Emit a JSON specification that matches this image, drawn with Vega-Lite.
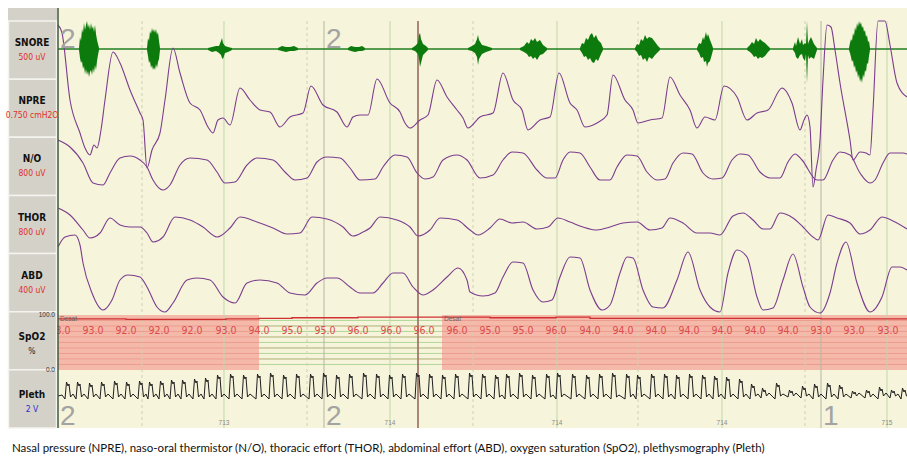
{
"$schema":"https://vega.github.io/schema/vega-lite/v6.json",
"width":899,"height":420,
"autosize":{"type":"none"},
"padding":{"left":8,"top":8,"right":0,"bottom":30},
"background":"#ffffff",
"config":{"view":{"fill":"#f6f4da","stroke":null},"text":{"font":"Liberation Sans"}},
"title":{"text":"Nasal pressure (NPRE), naso-oral thermistor (N/O), thoracic effort (THOR), abdominal effort (ABD), oxygen saturation (SpO2), plethysmography (Pleth)","orient":"bottom","anchor":"start","frame":"group","offset":12,"dx":4,"font":"Lato","fontSize":11.5,"fontWeight":"normal","color":"#111111"},
"resolve":{"scale":{"y":"independent"}},
"datasets":{
"grid":[{"t":84,"k":"minor"},{"t":249,"k":"minor"},{"t":415,"k":"minor"},{"t":580,"k":"minor"},{"t":747,"k":"minor"},{"t":166,"k":"major"},{"t":332,"k":"major"},{"t":499,"k":"major"},{"t":664,"k":"major"},{"t":829,"k":"major"},{"t":266,"k":"stage"},{"t":763,"k":"stage"},{"t":360,"k":"cursor"}],
"stages":[{"t":0,"stage":"2"},{"t":266,"stage":"2"},{"t":763,"stage":"1"}],
"epochs":[{"t":166,"ep":"713"},{"t":332,"ep":"714"},{"t":499,"ep":"714"},{"t":664,"ep":"714"},{"t":829,"ep":"715"}],
"channels":[{"name":"SNORE","unit":"500 uV"},{"name":"NPRE","unit":"0.750 cmH2O"},{"name":"N/O","unit":"800 uV"},{"name":"THOR","unit":"800 uV"},{"name":"ABD","unit":"400 uV"},{"name":"SpO2","unit":"%"},{"name":"Pleth","unit":"2 V"}],
"desat":[{"t":0,"t2":201},{"t":384,"t2":849}],
"spo2grid":[{"lvl":10},{"lvl":20},{"lvl":30},{"lvl":40},{"lvl":50},{"lvl":60},{"lvl":70},{"lvl":80},{"lvl":90}],
"spo2ax":[{"lvl":100,"lab":"100.0"},{"lvl":0,"lab":"0.0"}],
"spo2":[{"t":2,"val":93},{"t":35,"val":93},{"t":68,"val":92},{"t":101,"val":92},{"t":134,"val":92},{"t":168,"val":93},{"t":201,"val":94},{"t":234,"val":95},{"t":267,"val":95},{"t":300,"val":96},{"t":333,"val":96},{"t":366,"val":96},{"t":399,"val":96},{"t":432,"val":95},{"t":465,"val":95},{"t":498,"val":96},{"t":532,"val":94},{"t":565,"val":94},{"t":598,"val":94},{"t":631,"val":94},{"t":664,"val":94},{"t":697,"val":94},{"t":730,"val":94},{"t":763,"val":93},{"t":796,"val":93},{"t":830,"val":93}],
"spo2trace":[{"t":0,"val":93},{"t":35,"val":93},{"t":68,"val":92},{"t":101,"val":92},{"t":134,"val":92},{"t":168,"val":93},{"t":201,"val":94},{"t":234,"val":95},{"t":267,"val":95},{"t":300,"val":96},{"t":333,"val":96},{"t":366,"val":96},{"t":399,"val":96},{"t":432,"val":95},{"t":465,"val":95},{"t":498,"val":96},{"t":532,"val":94},{"t":565,"val":94},{"t":598,"val":94},{"t":631,"val":94},{"t":664,"val":94},{"t":697,"val":94},{"t":730,"val":94},{"t":763,"val":93},{"t":796,"val":93},{"t":830,"val":93},{"t":849,"val":93}],
"snorebase":[{"t":0,"v":0},{"t":849,"v":0}],
"snore":[
{"b":1,"t":21,"hi":1,"lo":-1},{"b":1,"t":22,"hi":12,"lo":-9},{"b":1,"t":23,"hi":8,"lo":-14},{"b":1,"t":24,"hi":20,"lo":-12},{"b":1,"t":25,"hi":16,"lo":-20},{"b":1,"t":26,"hi":26,"lo":-17},{"b":1,"t":27,"hi":19,"lo":-25},{"b":1,"t":28,"hi":24,"lo":-20},{"b":1,"t":29,"hi":28,"lo":-26},{"b":1,"t":30,"hi":21,"lo":-22},{"b":1,"t":31,"hi":25,"lo":-28},{"b":1,"t":32,"hi":19,"lo":-23},{"b":1,"t":33,"hi":26,"lo":-21},{"b":1,"t":34,"hi":20,"lo":-26},{"b":1,"t":35,"hi":23,"lo":-19},{"b":1,"t":36,"hi":17,"lo":-24},{"b":1,"t":37,"hi":24,"lo":-16},{"b":1,"t":38,"hi":15,"lo":-21},{"b":1,"t":39,"hi":9,"lo":-12},{"b":1,"t":40,"hi":5,"lo":-6},{"b":1,"t":41,"hi":1,"lo":-1},
{"b":2,"t":89,"hi":1,"lo":-1},{"b":2,"t":90,"hi":11,"lo":-7},{"b":2,"t":91,"hi":8,"lo":-14},{"b":2,"t":92,"hi":18,"lo":-12},{"b":2,"t":93,"hi":15,"lo":-19},{"b":2,"t":94,"hi":21,"lo":-16},{"b":2,"t":95,"hi":17,"lo":-21},{"b":2,"t":96,"hi":20,"lo":-18},{"b":2,"t":97,"hi":16,"lo":-21},{"b":2,"t":98,"hi":20,"lo":-15},{"b":2,"t":99,"hi":14,"lo":-19},{"b":2,"t":100,"hi":17,"lo":-13},{"b":2,"t":101,"hi":8,"lo":-10},{"b":2,"t":102,"hi":1,"lo":-1},
{"b":3,"t":150,"hi":1,"lo":-1},{"b":3,"t":154,"hi":2,"lo":-3},{"b":3,"t":158,"hi":3,"lo":-2},{"b":3,"t":161,"hi":3,"lo":-4},{"b":3,"t":163,"hi":8,"lo":-6},{"b":3,"t":164,"hi":11,"lo":-9},{"b":3,"t":165,"hi":6,"lo":-10},{"b":3,"t":167,"hi":3,"lo":-4},{"b":3,"t":170,"hi":2,"lo":-3},{"b":3,"t":174,"hi":1,"lo":-1},
{"b":4,"t":220,"hi":1,"lo":-1},{"b":4,"t":224,"hi":3,"lo":-2},{"b":4,"t":228,"hi":2,"lo":-3},{"b":4,"t":232,"hi":2,"lo":-2},{"b":4,"t":236,"hi":3,"lo":-2},{"b":4,"t":240,"hi":1,"lo":-1},
{"b":5,"t":290,"hi":1,"lo":-1},{"b":5,"t":293,"hi":3,"lo":-2},{"b":5,"t":297,"hi":2,"lo":-3},{"b":5,"t":301,"hi":2,"lo":-2},{"b":5,"t":304,"hi":3,"lo":-2},{"b":5,"t":307,"hi":1,"lo":-1},
{"b":6,"t":354,"hi":1,"lo":-1},{"b":6,"t":357,"hi":3,"lo":-2},{"b":6,"t":360,"hi":6,"lo":-5},{"b":6,"t":361,"hi":14,"lo":-10},{"b":6,"t":362,"hi":16,"lo":-18},{"b":6,"t":363,"hi":10,"lo":-14},{"b":6,"t":365,"hi":5,"lo":-6},{"b":6,"t":368,"hi":3,"lo":-3},{"b":6,"t":370,"hi":1,"lo":-1},
{"b":7,"t":410,"hi":1,"lo":-1},{"b":7,"t":414,"hi":3,"lo":-2},{"b":7,"t":417,"hi":5,"lo":-4},{"b":7,"t":419,"hi":10,"lo":-8},{"b":7,"t":420,"hi":14,"lo":-16},{"b":7,"t":421,"hi":9,"lo":-10},{"b":7,"t":424,"hi":4,"lo":-5},{"b":7,"t":428,"hi":3,"lo":-3},{"b":7,"t":431,"hi":2,"lo":-2},{"b":7,"t":434,"hi":1,"lo":-1},
{"b":8,"t":462,"hi":1,"lo":-1},{"b":8,"t":466,"hi":3,"lo":-3},{"b":8,"t":469,"hi":7,"lo":-5},{"b":8,"t":471,"hi":5,"lo":-8},{"b":8,"t":473,"hi":10,"lo":-7},{"b":8,"t":475,"hi":8,"lo":-10},{"b":8,"t":477,"hi":11,"lo":-8},{"b":8,"t":479,"hi":7,"lo":-11},{"b":8,"t":482,"hi":9,"lo":-6},{"b":8,"t":485,"hi":4,"lo":-5},{"b":8,"t":489,"hi":1,"lo":-1},
{"b":9,"t":522,"hi":1,"lo":-1},{"b":9,"t":524,"hi":6,"lo":-4},{"b":9,"t":526,"hi":5,"lo":-8},{"b":9,"t":528,"hi":11,"lo":-7},{"b":9,"t":530,"hi":9,"lo":-11},{"b":9,"t":532,"hi":14,"lo":-9},{"b":9,"t":534,"hi":16,"lo":-13},{"b":9,"t":536,"hi":11,"lo":-14},{"b":9,"t":538,"hi":14,"lo":-10},{"b":9,"t":540,"hi":9,"lo":-12},{"b":9,"t":543,"hi":6,"lo":-5},{"b":9,"t":545,"hi":1,"lo":-1},
{"b":10,"t":577,"hi":1,"lo":-1},{"b":10,"t":579,"hi":5,"lo":-3},{"b":10,"t":581,"hi":4,"lo":-7},{"b":10,"t":583,"hi":10,"lo":-6},{"b":10,"t":585,"hi":8,"lo":-11},{"b":10,"t":587,"hi":14,"lo":-9},{"b":10,"t":589,"hi":10,"lo":-13},{"b":10,"t":591,"hi":12,"lo":-8},{"b":10,"t":594,"hi":11,"lo":-10},{"b":10,"t":597,"hi":7,"lo":-6},{"b":10,"t":600,"hi":3,"lo":-3},{"b":10,"t":602,"hi":1,"lo":-1},
{"b":11,"t":639,"hi":1,"lo":-1},{"b":11,"t":641,"hi":6,"lo":-4},{"b":11,"t":643,"hi":5,"lo":-9},{"b":11,"t":645,"hi":12,"lo":-8},{"b":11,"t":646,"hi":9,"lo":-13},{"b":11,"t":648,"hi":17,"lo":-12},{"b":11,"t":649,"hi":12,"lo":-18},{"b":11,"t":650,"hi":15,"lo":-14},{"b":11,"t":652,"hi":9,"lo":-12},{"b":11,"t":654,"hi":4,"lo":-5},{"b":11,"t":655,"hi":1,"lo":-1},
{"b":12,"t":689,"hi":1,"lo":-1},{"b":12,"t":692,"hi":4,"lo":-3},{"b":12,"t":694,"hi":7,"lo":-5},{"b":12,"t":696,"hi":5,"lo":-8},{"b":12,"t":698,"hi":11,"lo":-7},{"b":12,"t":700,"hi":7,"lo":-10},{"b":12,"t":702,"hi":10,"lo":-8},{"b":12,"t":704,"hi":8,"lo":-9},{"b":12,"t":707,"hi":6,"lo":-7},{"b":12,"t":710,"hi":3,"lo":-3},{"b":12,"t":712,"hi":1,"lo":-1},
{"b":13,"t":735,"hi":1,"lo":-1},{"b":13,"t":737,"hi":7,"lo":-4},{"b":13,"t":738,"hi":3,"lo":-8},{"b":13,"t":740,"hi":12,"lo":-10},{"b":13,"t":742,"hi":5,"lo":-6},{"b":13,"t":744,"hi":10,"lo":-5},{"b":13,"t":745,"hi":4,"lo":-9},{"b":13,"t":747,"hi":6,"lo":-12},{"b":13,"t":748,"hi":5,"lo":-5},{"b":13,"t":749,"hi":28,"lo":-34},{"b":13,"t":750,"hi":5,"lo":-6},{"b":13,"t":751,"hi":8,"lo":-10},{"b":13,"t":753,"hi":12,"lo":-8},{"b":13,"t":756,"hi":5,"lo":-10},{"b":13,"t":759,"hi":1,"lo":-1},
{"b":14,"t":791,"hi":1,"lo":-1},{"b":14,"t":792,"hi":6,"lo":-4},{"b":14,"t":793,"hi":10,"lo":-8},{"b":14,"t":794,"hi":8,"lo":-13},{"b":14,"t":795,"hi":16,"lo":-11},{"b":14,"t":796,"hi":13,"lo":-19},{"b":14,"t":797,"hi":22,"lo":-16},{"b":14,"t":798,"hi":18,"lo":-24},{"b":14,"t":799,"hi":26,"lo":-21},{"b":14,"t":800,"hi":22,"lo":-29},{"b":14,"t":801,"hi":28,"lo":-25},{"b":14,"t":802,"hi":24,"lo":-33},{"b":14,"t":803,"hi":27,"lo":-29},{"b":14,"t":804,"hi":21,"lo":-34},{"b":14,"t":805,"hi":23,"lo":-25},{"b":14,"t":806,"hi":17,"lo":-29},{"b":14,"t":807,"hi":19,"lo":-21},{"b":14,"t":808,"hi":12,"lo":-23},{"b":14,"t":809,"hi":14,"lo":-14},{"b":14,"t":810,"hi":7,"lo":-15},{"b":14,"t":811,"hi":8,"lo":-7},{"b":14,"t":812,"hi":1,"lo":-1}],
"npre":[{"t":0,"v":85},{"t":4,"v":77},{"t":12,"v":10},{"t":22,"v":-23},{"t":27,"v":-38},{"t":32,"v":-45},{"t":36,"v":-35},{"t":39,"v":-38},{"t":43,"v":-20},{"t":47,"v":10},{"t":55,"v":58},{"t":62,"v":47},{"t":72,"v":20},{"t":82,"v":-3},{"t":85,"v":-10},{"t":89,"v":-58},{"t":94,"v":-40},{"t":102,"v":-23},{"t":107,"v":10},{"t":115,"v":62},{"t":122,"v":37},{"t":132,"v":7},{"t":142,"v":0},{"t":150,"v":-17},{"t":155,"v":-23},{"t":160,"v":-10},{"t":165,"v":-8},{"t":172,"v":-15},{"t":182,"v":22},{"t":192,"v":10},{"t":202,"v":0},{"t":212,"v":-2},{"t":222,"v":-17},{"t":232,"v":-7},{"t":245,"v":-3},{"t":253,"v":24},{"t":265,"v":5},{"t":279,"v":-2},{"t":289,"v":-17},{"t":295,"v":-7},{"t":302,"v":-5},{"t":310,"v":-5},{"t":319,"v":31},{"t":332,"v":7},{"t":342,"v":-2},{"t":347,"v":-13},{"t":352,"v":-18},{"t":362,"v":-10},{"t":370,"v":-5},{"t":379,"v":30},{"t":389,"v":13},{"t":399,"v":0},{"t":405,"v":-8},{"t":410,"v":-18},{"t":422,"v":-7},{"t":435,"v":-3},{"t":445,"v":37},{"t":455,"v":10},{"t":464,"v":0},{"t":470,"v":-20},{"t":482,"v":-10},{"t":492,"v":-7},{"t":501,"v":37},{"t":512,"v":7},{"t":519,"v":0},{"t":527,"v":-17},{"t":539,"v":-13},{"t":549,"v":-5},{"t":555,"v":35},{"t":567,"v":10},{"t":575,"v":0},{"t":580,"v":-13},{"t":592,"v":-10},{"t":604,"v":-8},{"t":612,"v":33},{"t":622,"v":15},{"t":632,"v":0},{"t":639,"v":-18},{"t":647,"v":-7},{"t":657,"v":-10},{"t":666,"v":24},{"t":679,"v":13},{"t":689,"v":-10},{"t":699,"v":-3},{"t":710,"v":0},{"t":724,"v":22},{"t":734,"v":7},{"t":742,"v":-20},{"t":746,"v":-10},{"t":749,"v":-5},{"t":752,"v":-17},{"t":755,"v":-77},{"t":758,"v":-60},{"t":762,"v":-30},{"t":765,"v":30},{"t":769,"v":85},{"t":773,"v":83},{"t":777,"v":60},{"t":782,"v":27},{"t":792,"v":-30},{"t":795,"v":-50},{"t":802,"v":-42},{"t":808,"v":-43},{"t":812,"v":-45},{"t":815,"v":0},{"t":820,"v":89},{"t":827,"v":89},{"t":832,"v":65},{"t":839,"v":27},{"t":849,"v":13}],
"no":[{"t":0,"v":27},{"t":12,"v":20},{"t":25,"v":4},{"t":35,"v":-16},{"t":45,"v":-18},{"t":52,"v":-6},{"t":62,"v":9},{"t":72,"v":11},{"t":82,"v":7},{"t":89,"v":0},{"t":95,"v":-13},{"t":105,"v":-23},{"t":112,"v":-18},{"t":122,"v":2},{"t":132,"v":9},{"t":149,"v":7},{"t":159,"v":-5},{"t":167,"v":-16},{"t":177,"v":-15},{"t":189,"v":2},{"t":199,"v":9},{"t":215,"v":7},{"t":227,"v":-5},{"t":237,"v":-13},{"t":249,"v":-11},{"t":259,"v":5},{"t":269,"v":10},{"t":282,"v":9},{"t":292,"v":-1},{"t":302,"v":-13},{"t":317,"v":-12},{"t":325,"v":0},{"t":337,"v":12},{"t":349,"v":10},{"t":359,"v":-6},{"t":367,"v":-12},{"t":375,"v":-10},{"t":385,"v":7},{"t":399,"v":12},{"t":409,"v":7},{"t":422,"v":-11},{"t":435,"v":-8},{"t":445,"v":7},{"t":454,"v":15},{"t":465,"v":14},{"t":479,"v":-3},{"t":489,"v":-11},{"t":497,"v":-11},{"t":505,"v":7},{"t":512,"v":15},{"t":522,"v":14},{"t":532,"v":0},{"t":542,"v":-13},{"t":552,"v":-13},{"t":559,"v":0},{"t":569,"v":12},{"t":579,"v":11},{"t":589,"v":-5},{"t":599,"v":-13},{"t":607,"v":-12},{"t":615,"v":4},{"t":625,"v":14},{"t":634,"v":13},{"t":645,"v":-6},{"t":655,"v":-12},{"t":664,"v":-11},{"t":674,"v":7},{"t":682,"v":13},{"t":690,"v":12},{"t":702,"v":-5},{"t":712,"v":-11},{"t":722,"v":-11},{"t":730,"v":5},{"t":737,"v":13},{"t":744,"v":7},{"t":759,"v":-13},{"t":765,"v":-13},{"t":775,"v":7},{"t":782,"v":15},{"t":792,"v":12},{"t":802,"v":-6},{"t":812,"v":-16},{"t":817,"v":-13},{"t":825,"v":4},{"t":832,"v":14},{"t":845,"v":14},{"t":849,"v":13}],
"thor":[{"t":0,"v":18},{"t":12,"v":11},{"t":25,"v":-4},{"t":32,"v":-12},{"t":42,"v":-7},{"t":52,"v":8},{"t":62,"v":1},{"t":72,"v":-1},{"t":82,"v":-1},{"t":89,"v":-7},{"t":95,"v":-16},{"t":105,"v":-11},{"t":117,"v":9},{"t":132,"v":6},{"t":145,"v":-1},{"t":159,"v":-11},{"t":172,"v":-2},{"t":182,"v":9},{"t":199,"v":4},{"t":215,"v":-2},{"t":229,"v":-8},{"t":242,"v":-7},{"t":254,"v":9},{"t":269,"v":7},{"t":285,"v":-1},{"t":295,"v":-10},{"t":305,"v":-6},{"t":312,"v":-2},{"t":322,"v":9},{"t":339,"v":6},{"t":352,"v":-1},{"t":360,"v":-10},{"t":372,"v":-4},{"t":382,"v":8},{"t":399,"v":6},{"t":412,"v":-4},{"t":420,"v":-9},{"t":432,"v":-2},{"t":442,"v":7},{"t":454,"v":3},{"t":465,"v":4},{"t":479,"v":-3},{"t":490,"v":-1},{"t":500,"v":8},{"t":512,"v":4},{"t":525,"v":-1},{"t":539,"v":-4},{"t":552,"v":-1},{"t":565,"v":3},{"t":579,"v":4},{"t":592,"v":-4},{"t":604,"v":-2},{"t":612,"v":8},{"t":625,"v":3},{"t":639,"v":-7},{"t":652,"v":-7},{"t":662,"v":-9},{"t":675,"v":10},{"t":685,"v":13},{"t":695,"v":6},{"t":705,"v":-3},{"t":712,"v":-3},{"t":722,"v":13},{"t":735,"v":8},{"t":745,"v":-1},{"t":755,"v":-11},{"t":760,"v":-14},{"t":770,"v":11},{"t":779,"v":8},{"t":792,"v":3},{"t":802,"v":-8},{"t":812,"v":-4},{"t":824,"v":9},{"t":835,"v":5},{"t":849,"v":-3}],
"abd":[{"t":0,"v":38},{"t":7,"v":48},{"t":17,"v":50},{"t":22,"v":40},{"t":25,"v":22},{"t":34,"v":-8},{"t":45,"v":-25},{"t":54,"v":-15},{"t":62,"v":5},{"t":70,"v":10},{"t":82,"v":8},{"t":89,"v":-2},{"t":99,"v":-22},{"t":107,"v":-27},{"t":115,"v":-18},{"t":129,"v":5},{"t":139,"v":7},{"t":152,"v":5},{"t":165,"v":-12},{"t":177,"v":-18},{"t":189,"v":2},{"t":202,"v":5},{"t":219,"v":2},{"t":232,"v":-8},{"t":247,"v":-10},{"t":259,"v":2},{"t":269,"v":7},{"t":279,"v":7},{"t":292,"v":-2},{"t":302,"v":-8},{"t":315,"v":-8},{"t":325,"v":2},{"t":335,"v":12},{"t":345,"v":12},{"t":355,"v":-2},{"t":365,"v":-10},{"t":375,"v":-5},{"t":389,"v":8},{"t":400,"v":17},{"t":409,"v":5},{"t":412,"v":-7},{"t":425,"v":-11},{"t":437,"v":-8},{"t":445,"v":8},{"t":455,"v":23},{"t":465,"v":22},{"t":475,"v":-5},{"t":485,"v":-17},{"t":494,"v":-15},{"t":502,"v":8},{"t":512,"v":28},{"t":522,"v":27},{"t":532,"v":-5},{"t":544,"v":-25},{"t":552,"v":-20},{"t":562,"v":12},{"t":569,"v":28},{"t":575,"v":27},{"t":585,"v":-5},{"t":595,"v":-22},{"t":605,"v":-23},{"t":619,"v":5},{"t":630,"v":33},{"t":642,"v":-5},{"t":652,"v":-22},{"t":662,"v":-27},{"t":670,"v":12},{"t":679,"v":35},{"t":689,"v":28},{"t":699,"v":-12},{"t":705,"v":-25},{"t":715,"v":-23},{"t":725,"v":5},{"t":735,"v":31},{"t":745,"v":-2},{"t":752,"v":-22},{"t":762,"v":-28},{"t":772,"v":-8},{"t":779,"v":22},{"t":788,"v":43},{"t":799,"v":2},{"t":812,"v":-27},{"t":824,"v":-12},{"t":834,"v":18},{"t":842,"v":18},{"t":849,"v":15}],
"pleth":[{"t":0,"v":3},{"t":4,"v":4},
{"t":7,"v":0},{"t":8.5,"v":17},{"t":10,"v":13},{"t":11,"v":15},{"t":12.5,"v":2},{"t":15,"v":5},
{"t":18,"v":0},{"t":19.5,"v":17},{"t":21,"v":13},{"t":22,"v":15},{"t":23.5,"v":2},{"t":26,"v":5},
{"t":30,"v":0},{"t":31.5,"v":16},{"t":33,"v":12},{"t":34,"v":14},{"t":35.5,"v":2},{"t":38,"v":5},
{"t":42,"v":0},{"t":43.5,"v":17},{"t":45,"v":13},{"t":46,"v":15},{"t":47.5,"v":2},{"t":50,"v":5},
{"t":55,"v":0},{"t":56.5,"v":18},{"t":58,"v":14},{"t":59,"v":16},{"t":60.5,"v":2},{"t":63,"v":5},
{"t":67,"v":0},{"t":68.5,"v":17},{"t":70,"v":13},{"t":71,"v":15},{"t":72.5,"v":2},{"t":75,"v":5},
{"t":80,"v":0},{"t":81.5,"v":18},{"t":83,"v":14},{"t":84,"v":16},{"t":85.5,"v":2},{"t":88,"v":5},
{"t":90,"v":0},{"t":91.5,"v":17},{"t":93,"v":13},{"t":94,"v":15},{"t":95.5,"v":2},{"t":98,"v":5},
{"t":101,"v":0},{"t":102.5,"v":18},{"t":104,"v":14},{"t":105,"v":16},{"t":106.5,"v":2},{"t":109,"v":5},
{"t":112,"v":0},{"t":113.5,"v":19},{"t":115,"v":15},{"t":116,"v":17},{"t":117.5,"v":2},{"t":120,"v":5},
{"t":123,"v":0},{"t":124.5,"v":19},{"t":126,"v":15},{"t":127,"v":17},{"t":128.5,"v":2},{"t":131,"v":5},
{"t":135,"v":0},{"t":136.5,"v":20},{"t":138,"v":16},{"t":139,"v":18},{"t":140.5,"v":2},{"t":143,"v":5},
{"t":146,"v":0},{"t":147.5,"v":21},{"t":149,"v":17},{"t":150,"v":19},{"t":151.5,"v":2},{"t":154,"v":5},
{"t":158,"v":0},{"t":159.5,"v":24},{"t":161,"v":20},{"t":162,"v":22},{"t":163.5,"v":2},{"t":166,"v":5},
{"t":171,"v":0},{"t":172.5,"v":25},{"t":174,"v":21},{"t":175,"v":23},{"t":176.5,"v":2},{"t":179,"v":5},
{"t":184,"v":0},{"t":185.5,"v":24},{"t":187,"v":20},{"t":188,"v":22},{"t":189.5,"v":2},{"t":192,"v":5},
{"t":198,"v":0},{"t":199.5,"v":25},{"t":201,"v":21},{"t":202,"v":23},{"t":203.5,"v":2},{"t":206,"v":5},
{"t":211,"v":0},{"t":212.5,"v":26},{"t":214,"v":22},{"t":215,"v":24},{"t":216.5,"v":2},{"t":219,"v":5},
{"t":224,"v":0},{"t":225.5,"v":24},{"t":227,"v":20},{"t":228,"v":22},{"t":229.5,"v":2},{"t":232,"v":5},
{"t":237,"v":0},{"t":238.5,"v":25},{"t":240,"v":21},{"t":241,"v":23},{"t":242.5,"v":2},{"t":245,"v":5},
{"t":251,"v":0},{"t":252.5,"v":25},{"t":254,"v":21},{"t":255,"v":23},{"t":256.5,"v":2},{"t":259,"v":5},
{"t":264,"v":0},{"t":265.5,"v":26},{"t":267,"v":22},{"t":268,"v":24},{"t":269.5,"v":2},{"t":272,"v":5},
{"t":277,"v":0},{"t":278.5,"v":24},{"t":280,"v":20},{"t":281,"v":22},{"t":282.5,"v":2},{"t":285,"v":5},
{"t":290,"v":0},{"t":291.5,"v":25},{"t":293,"v":21},{"t":294,"v":23},{"t":295.5,"v":2},{"t":298,"v":5},
{"t":304,"v":0},{"t":305.5,"v":26},{"t":307,"v":22},{"t":308,"v":24},{"t":309.5,"v":2},{"t":312,"v":5},
{"t":317,"v":0},{"t":318.5,"v":25},{"t":320,"v":21},{"t":321,"v":23},{"t":322.5,"v":2},{"t":325,"v":5},
{"t":330,"v":0},{"t":331.5,"v":24},{"t":333,"v":20},{"t":334,"v":22},{"t":335.5,"v":2},{"t":338,"v":5},
{"t":343,"v":0},{"t":344.5,"v":25},{"t":346,"v":21},{"t":347,"v":23},{"t":348.5,"v":2},{"t":351,"v":5},
{"t":357,"v":0},{"t":358.5,"v":26},{"t":360,"v":22},{"t":361,"v":24},{"t":362.5,"v":2},{"t":365,"v":5},
{"t":370,"v":0},{"t":371.5,"v":25},{"t":373,"v":21},{"t":374,"v":23},{"t":375.5,"v":2},{"t":378,"v":5},
{"t":383,"v":0},{"t":384.5,"v":24},{"t":386,"v":20},{"t":387,"v":22},{"t":388.5,"v":2},{"t":391,"v":5},
{"t":396,"v":0},{"t":397.5,"v":25},{"t":399,"v":21},{"t":400,"v":23},{"t":401.5,"v":2},{"t":404,"v":5},
{"t":410,"v":0},{"t":411.5,"v":26},{"t":413,"v":22},{"t":414,"v":24},{"t":415.5,"v":2},{"t":418,"v":5},
{"t":423,"v":0},{"t":424.5,"v":25},{"t":426,"v":21},{"t":427,"v":23},{"t":428.5,"v":2},{"t":431,"v":5},
{"t":436,"v":0},{"t":437.5,"v":24},{"t":439,"v":20},{"t":440,"v":22},{"t":441.5,"v":2},{"t":444,"v":4},
{"t":447,"v":0},{"t":448.5,"v":25},{"t":450,"v":21},{"t":451,"v":23},{"t":452.5,"v":2},{"t":455,"v":5},
{"t":460,"v":0},{"t":461.5,"v":26},{"t":463,"v":22},{"t":464,"v":24},{"t":465.5,"v":2},{"t":468,"v":5},
{"t":473,"v":0},{"t":474.5,"v":24},{"t":476,"v":20},{"t":477,"v":22},{"t":478.5,"v":2},{"t":481,"v":5},
{"t":487,"v":0},{"t":488.5,"v":25},{"t":490,"v":21},{"t":491,"v":23},{"t":492.5,"v":2},{"t":495,"v":4},
{"t":498,"v":0},{"t":499.5,"v":26},{"t":501,"v":22},{"t":502,"v":24},{"t":503.5,"v":2},{"t":506,"v":5},
{"t":513,"v":0},{"t":514.5,"v":25},{"t":516,"v":21},{"t":517,"v":23},{"t":518.5,"v":2},{"t":521,"v":5},
{"t":527,"v":0},{"t":528.5,"v":24},{"t":530,"v":20},{"t":531,"v":22},{"t":532.5,"v":2},{"t":535,"v":5},
{"t":540,"v":0},{"t":541.5,"v":25},{"t":543,"v":21},{"t":544,"v":23},{"t":545.5,"v":2},{"t":548,"v":5},
{"t":553,"v":0},{"t":554.5,"v":26},{"t":556,"v":22},{"t":557,"v":24},{"t":558.5,"v":2},{"t":561,"v":4},
{"t":567,"v":0},{"t":568.5,"v":25},{"t":570,"v":21},{"t":571,"v":23},{"t":572.5,"v":2},{"t":575,"v":5},
{"t":578,"v":0},{"t":579.5,"v":24},{"t":581,"v":20},{"t":582,"v":22},{"t":583.5,"v":2},{"t":586,"v":5},
{"t":592,"v":0},{"t":593.5,"v":25},{"t":595,"v":21},{"t":596,"v":23},{"t":597.5,"v":2},{"t":600,"v":5},
{"t":605,"v":0},{"t":606.5,"v":25},{"t":608,"v":21},{"t":609,"v":23},{"t":610.5,"v":2},{"t":613,"v":5},
{"t":617,"v":0},{"t":618.5,"v":24},{"t":620,"v":20},{"t":621,"v":22},{"t":622.5,"v":2},{"t":625,"v":5},
{"t":630,"v":0},{"t":631.5,"v":25},{"t":633,"v":21},{"t":634,"v":23},{"t":635.5,"v":2},{"t":638,"v":5},
{"t":643,"v":0},{"t":644.5,"v":24},{"t":646,"v":20},{"t":647,"v":22},{"t":648.5,"v":2},{"t":651,"v":5},
{"t":655,"v":0},{"t":656.5,"v":23},{"t":658,"v":19},{"t":659,"v":21},{"t":660.5,"v":2},{"t":663,"v":5},
{"t":667,"v":0},{"t":668.5,"v":22},{"t":670,"v":18},{"t":671,"v":20},{"t":672.5,"v":2},{"t":675,"v":5},
{"t":680,"v":0},{"t":681.5,"v":20},{"t":683,"v":16},{"t":684,"v":18},{"t":685.5,"v":2},{"t":688,"v":5},
{"t":692,"v":0},{"t":693.5,"v":15},{"t":695,"v":11},{"t":696,"v":13},{"t":697.5,"v":3},{"t":700,"v":5},
{"t":703,"v":1},{"t":704.5,"v":11},{"t":706,"v":7},{"t":707,"v":9},{"t":708.5,"v":3},{"t":711,"v":6},
{"t":717,"v":0},{"t":718.5,"v":16},{"t":720,"v":12},{"t":721,"v":14},{"t":722.5,"v":3},{"t":725,"v":5},
{"t":730,"v":2},{"t":731.5,"v":9},{"t":733,"v":6},{"t":734,"v":8},{"t":735.5,"v":3},{"t":738,"v":6},
{"t":743,"v":1},{"t":744.5,"v":13},{"t":746,"v":9},{"t":747,"v":11},{"t":748.5,"v":3},{"t":751,"v":5},
{"t":755,"v":0},{"t":756.5,"v":15},{"t":758,"v":11},{"t":759,"v":13},{"t":760.5,"v":2},{"t":763,"v":5},
{"t":768,"v":0},{"t":769.5,"v":16},{"t":771,"v":12},{"t":772,"v":14},{"t":773.5,"v":2},{"t":776,"v":5},
{"t":780,"v":0},{"t":781.5,"v":14},{"t":783,"v":10},{"t":784,"v":12},{"t":785.5,"v":2},{"t":788,"v":5},
{"t":793,"v":1},{"t":794.5,"v":8},{"t":796,"v":5},{"t":797,"v":7},{"t":798.5,"v":3},{"t":801,"v":6},
{"t":807,"v":1},{"t":808.5,"v":9},{"t":810,"v":6},{"t":811,"v":8},{"t":812.5,"v":2},{"t":815,"v":5},
{"t":820,"v":0},{"t":821.5,"v":12},{"t":823,"v":8},{"t":824,"v":10},{"t":825.5,"v":3},{"t":828,"v":6},
{"t":832,"v":1},{"t":833.5,"v":9},{"t":835,"v":6},{"t":836,"v":8},{"t":837.5,"v":3},{"t":840,"v":5},
{"t":843,"v":0},{"t":844.5,"v":11},{"t":846,"v":7},{"t":847,"v":9},{"t":848.5,"v":3},{"t":849,"v":3}]
},
"layer":[
{"data":{"name":"desat"},"mark":{"type":"rect","color":"#f5b9aa"},"encoding":{"x":{"field":"t","type":"quantitative","scale":{"domain":[-50,849],"nice":false,"zero":false},"axis":null},"x2":{"field":"t2"},"y":{"datum":100,"type":"quantitative","scale":{"domain":[-105.5,658.2],"nice":false,"zero":false},"axis":null},"y2":{"datum":0}}},
{"data":{"name":"spo2grid"},"mark":{"type":"rule","color":"#eb9e8f","strokeWidth":1},"encoding":{"x":{"datum":0,"type":"quantitative","scale":{"domain":[-50,849],"nice":false,"zero":false},"axis":null},"x2":{"datum":849},"y":{"field":"lvl","type":"quantitative","scale":{"domain":[-105.5,658.2],"nice":false,"zero":false},"axis":null}}},
{"data":{"name":"spo2grid"},"mark":{"type":"rule","color":"#b2da9e","strokeWidth":1},"encoding":{"x":{"datum":201,"type":"quantitative","scale":{"domain":[-50,849],"nice":false,"zero":false},"axis":null},"x2":{"datum":384},"y":{"field":"lvl","type":"quantitative","scale":{"domain":[-105.5,658.2],"nice":false,"zero":false},"axis":null}}},
{"data":{"name":"grid"},"transform":[{"filter":"datum.k=='minor'"}],"mark":{"type":"rule","color":"#cdd1b2","strokeDash":[3,3],"strokeWidth":1},"encoding":{"x":{"field":"t","type":"quantitative","scale":{"domain":[-50,849],"nice":false,"zero":false},"axis":null},"y":{"datum":0,"type":"quantitative","scale":{"domain":[-0.2236,7],"reverse":true,"nice":false,"zero":false},"axis":null},"y2":{"datum":7}}},
{"data":{"name":"grid"},"transform":[{"filter":"datum.k=='major'"}],"mark":{"type":"rule","color":"#c0d7ab","strokeWidth":1},"encoding":{"x":{"field":"t","type":"quantitative","scale":{"domain":[-50,849],"nice":false,"zero":false},"axis":null},"y":{"datum":0,"type":"quantitative","scale":{"domain":[-0.2236,7],"reverse":true,"nice":false,"zero":false},"axis":null},"y2":{"datum":7}}},
{"data":{"name":"grid"},"transform":[{"filter":"datum.k=='stage'"}],"mark":{"type":"rule","color":"#b3b7a3","strokeWidth":1},"encoding":{"x":{"field":"t","type":"quantitative","scale":{"domain":[-50,849],"nice":false,"zero":false},"axis":null},"y":{"datum":0,"type":"quantitative","scale":{"domain":[-0.2236,7],"reverse":true,"nice":false,"zero":false},"axis":null},"y2":{"datum":7}}},
{"data":{"name":"grid"},"transform":[{"filter":"datum.k=='cursor'"}],"mark":{"type":"rule","color":"#9a6a5e","strokeWidth":1.6},"encoding":{"x":{"field":"t","type":"quantitative","scale":{"domain":[-50,849],"nice":false,"zero":false},"axis":null},"y":{"datum":0,"type":"quantitative","scale":{"domain":[-0.2236,7],"reverse":true,"nice":false,"zero":false},"axis":null},"y2":{"datum":7}}},
{"data":{"name":"snorebase"},"mark":{"type":"line","color":"#1f7f1f","strokeWidth":1.3},"encoding":{"x":{"field":"t","type":"quantitative","scale":{"domain":[-50,849],"nice":false,"zero":false},"axis":null},"y":{"field":"v","type":"quantitative","scale":{"domain":[-379,41],"nice":false,"zero":false},"axis":null}}},
{"data":{"name":"snore"},"mark":{"type":"area","color":"#0c7a0c"},"encoding":{"x":{"field":"t","type":"quantitative","scale":{"domain":[-50,849],"nice":false,"zero":false},"axis":null},"y":{"field":"hi","type":"quantitative","scale":{"domain":[-379,41],"nice":false,"zero":false},"axis":null},"y2":{"field":"lo"},"detail":{"field":"b","type":"nominal"}}},
{"data":{"name":"npre"},"mark":{"type":"line","color":"#7b3d8e","strokeWidth":1.1,"interpolate":"monotone"},"encoding":{"x":{"field":"t","type":"quantitative","scale":{"domain":[-50,849],"nice":false,"zero":false},"axis":null},"y":{"field":"v","type":"quantitative","scale":{"domain":[-318,102],"nice":false,"zero":false},"axis":null}}},
{"data":{"name":"no"},"mark":{"type":"line","color":"#7b3d8e","strokeWidth":1.1,"interpolate":"monotone"},"encoding":{"x":{"field":"t","type":"quantitative","scale":{"domain":[-50,849],"nice":false,"zero":false},"axis":null},"y":{"field":"v","type":"quantitative","scale":{"domain":[-261,159],"nice":false,"zero":false},"axis":null}}},
{"data":{"name":"thor"},"mark":{"type":"line","color":"#7b3d8e","strokeWidth":1.1,"interpolate":"monotone"},"encoding":{"x":{"field":"t","type":"quantitative","scale":{"domain":[-50,849],"nice":false,"zero":false},"axis":null},"y":{"field":"v","type":"quantitative","scale":{"domain":[-202,218],"nice":false,"zero":false},"axis":null}}},
{"data":{"name":"abd"},"mark":{"type":"line","color":"#7b3d8e","strokeWidth":1.1,"interpolate":"monotone"},"encoding":{"x":{"field":"t","type":"quantitative","scale":{"domain":[-50,849],"nice":false,"zero":false},"axis":null},"y":{"field":"v","type":"quantitative","scale":{"domain":[-143,277],"nice":false,"zero":false},"axis":null}}},
{"data":{"name":"spo2trace"},"mark":{"type":"line","color":"#d03030","strokeWidth":1.3,"interpolate":"step-after"},"encoding":{"x":{"field":"t","type":"quantitative","scale":{"domain":[-50,849],"nice":false,"zero":false},"axis":null},"y":{"field":"val","type":"quantitative","scale":{"domain":[-105.5,658.2],"nice":false,"zero":false},"axis":null}}},
{"data":{"name":"spo2"},"mark":{"type":"text","font":"Liberation Sans Narrow, DejaVu Sans Condensed, Liberation Sans","fontSize":10.5,"color":"#dc4a4a","baseline":"middle","dy":16},"encoding":{"x":{"field":"t","type":"quantitative","scale":{"domain":[-50,849],"nice":false,"zero":false},"axis":null},"y":{"datum":100,"type":"quantitative","scale":{"domain":[-105.5,658.2],"nice":false,"zero":false},"axis":null},"text":{"field":"val","type":"quantitative","format":".1f"}}},
{"data":{"name":"desat"},"mark":{"type":"text","text":"Desat","fontSize":6.5,"color":"#666666","align":"left","baseline":"top","dx":2,"dy":1},"encoding":{"x":{"field":"t","type":"quantitative","scale":{"domain":[-50,849],"nice":false,"zero":false},"axis":null},"y":{"datum":100,"type":"quantitative","scale":{"domain":[-105.5,658.2],"nice":false,"zero":false},"axis":null}}},
{"data":{"name":"pleth"},"mark":{"type":"line","color":"#1e1e1e","strokeWidth":1},"encoding":{"x":{"field":"t","type":"quantitative","scale":{"domain":[-50,849],"nice":false,"zero":false},"axis":null},"y":{"field":"v","type":"quantitative","scale":{"domain":[-29,391],"nice":false,"zero":false},"axis":null}}},
{"data":{"name":"stages"},"transform":[{"filter":"datum.t < 700"}],"mark":{"type":"text","fontSize":28,"color":"#a3a3a3","align":"left","baseline":"alphabetic","dx":2,"dy":27},"encoding":{"x":{"field":"t","type":"quantitative","scale":{"domain":[-50,849],"nice":false,"zero":false},"axis":null},"y":{"datum":0,"type":"quantitative","scale":{"domain":[-0.2236,7],"reverse":true,"nice":false,"zero":false},"axis":null},"text":{"field":"stage"}}},
{"data":{"name":"stages"},"mark":{"type":"text","fontSize":28,"color":"#a3a3a3","align":"left","baseline":"alphabetic","dx":2,"dy":-3},"encoding":{"x":{"field":"t","type":"quantitative","scale":{"domain":[-50,849],"nice":false,"zero":false},"axis":null},"y":{"datum":7,"type":"quantitative","scale":{"domain":[-0.2236,7],"reverse":true,"nice":false,"zero":false},"axis":null},"text":{"field":"stage"}}},
{"data":{"name":"epochs"},"mark":{"type":"text","fontSize":6.5,"color":"#8a8a8a","baseline":"bottom","dy":-2},"encoding":{"x":{"field":"t","type":"quantitative","scale":{"domain":[-50,849],"nice":false,"zero":false},"axis":null},"y":{"datum":7,"type":"quantitative","scale":{"domain":[-0.2236,7],"reverse":true,"nice":false,"zero":false},"axis":null},"text":{"field":"ep"}}},
{"data":{"values":[{}]},"mark":{"type":"rect","color":"#d4d1c9"},"encoding":{"x":{"datum":-50,"type":"quantitative","scale":{"domain":[-50,849],"nice":false,"zero":false},"axis":null},"x2":{"datum":-1}}},
{"data":{"name":"channels"},"mark":{"type":"rect","fill":"#d4d1c9","stroke":"#f4f3ee","strokeWidth":1.5},"encoding":{"x":{"datum":-49.5,"type":"quantitative","scale":{"domain":[-50,849],"nice":false,"zero":false},"axis":null},"x2":{"datum":-1.5},"y":{"field":"name","type":"nominal","scale":{"type":"band","domain":["SNORE","NPRE","N/O","THOR","ABD","SpO2","Pleth"],"paddingInner":0,"paddingOuter":0.112,"align":1},"axis":null}}},
{"data":{"values":[{}]},"mark":{"type":"rule","color":"#3c5a3c","strokeWidth":1.5},"encoding":{"x":{"datum":0,"type":"quantitative","scale":{"domain":[-50,849],"nice":false,"zero":false},"axis":null}}},
{"data":{"name":"channels"},"transform":[{"filter":"datum.name!='SpO2' && datum.name!='Pleth'"}],"mark":{"type":"text","font":"Liberation Sans Narrow, DejaVu Sans Condensed, Liberation Sans","fontWeight":"bold","fontSize":10,"color":"#111111","dy":-7},"encoding":{"x":{"datum":-26,"type":"quantitative","scale":{"domain":[-50,849],"nice":false,"zero":false},"axis":null},"y":{"field":"name","type":"nominal","bandPosition":0.5,"scale":{"type":"band","domain":["SNORE","NPRE","N/O","THOR","ABD","SpO2","Pleth"],"paddingInner":0,"paddingOuter":0.112,"align":1},"axis":null},"text":{"field":"name"}}},
{"data":{"name":"channels"},"transform":[{"filter":"datum.name=='SpO2' || datum.name=='Pleth'"}],"mark":{"type":"text","font":"Liberation Sans Narrow, DejaVu Sans Condensed, Liberation Sans","fontWeight":"bold","fontSize":10,"color":"#111111","dy":-4},"encoding":{"x":{"datum":-26,"type":"quantitative","scale":{"domain":[-50,849],"nice":false,"zero":false},"axis":null},"y":{"field":"name","type":"nominal","bandPosition":0.5,"scale":{"type":"band","domain":["SNORE","NPRE","N/O","THOR","ABD","SpO2","Pleth"],"paddingInner":0,"paddingOuter":0.112,"align":1},"axis":null},"text":{"field":"name"}}},
{"data":{"name":"channels"},"transform":[{"filter":"datum.name!='SpO2' && datum.name!='Pleth'"}],"mark":{"type":"text","font":"Liberation Sans Narrow, DejaVu Sans Condensed, Liberation Sans","fontSize":8.5,"color":"#e0302a","dy":7},"encoding":{"x":{"datum":-26,"type":"quantitative","scale":{"domain":[-50,849],"nice":false,"zero":false},"axis":null},"y":{"field":"name","type":"nominal","bandPosition":0.5,"scale":{"type":"band","domain":["SNORE","NPRE","N/O","THOR","ABD","SpO2","Pleth"],"paddingInner":0,"paddingOuter":0.112,"align":1},"axis":null},"text":{"field":"unit"}}},
{"data":{"name":"channels"},"transform":[{"filter":"datum.name=='SpO2'"}],"mark":{"type":"text","font":"Liberation Sans Narrow, DejaVu Sans Condensed, Liberation Sans","fontSize":8.5,"color":"#222222","dy":10},"encoding":{"x":{"datum":-26,"type":"quantitative","scale":{"domain":[-50,849],"nice":false,"zero":false},"axis":null},"y":{"field":"name","type":"nominal","bandPosition":0.5,"scale":{"type":"band","domain":["SNORE","NPRE","N/O","THOR","ABD","SpO2","Pleth"],"paddingInner":0,"paddingOuter":0.112,"align":1},"axis":null},"text":{"field":"unit"}}},
{"data":{"name":"channels"},"transform":[{"filter":"datum.name=='Pleth'"}],"mark":{"type":"text","font":"Liberation Sans Narrow, DejaVu Sans Condensed, Liberation Sans","fontSize":8.5,"color":"#2b2bd6","dy":10},"encoding":{"x":{"datum":-26,"type":"quantitative","scale":{"domain":[-50,849],"nice":false,"zero":false},"axis":null},"y":{"field":"name","type":"nominal","bandPosition":0.5,"scale":{"type":"band","domain":["SNORE","NPRE","N/O","THOR","ABD","SpO2","Pleth"],"paddingInner":0,"paddingOuter":0.112,"align":1},"axis":null},"text":{"field":"unit"}}},
{"data":{"name":"spo2ax"},"mark":{"type":"text","fontSize":6.5,"color":"#333333","align":"right","baseline":"middle"},"encoding":{"x":{"datum":-3,"type":"quantitative","scale":{"domain":[-50,849],"nice":false,"zero":false},"axis":null},"y":{"field":"lvl","type":"quantitative","scale":{"domain":[-105.5,658.2],"nice":false,"zero":false},"axis":null},"text":{"field":"lab"}}}
]
}
